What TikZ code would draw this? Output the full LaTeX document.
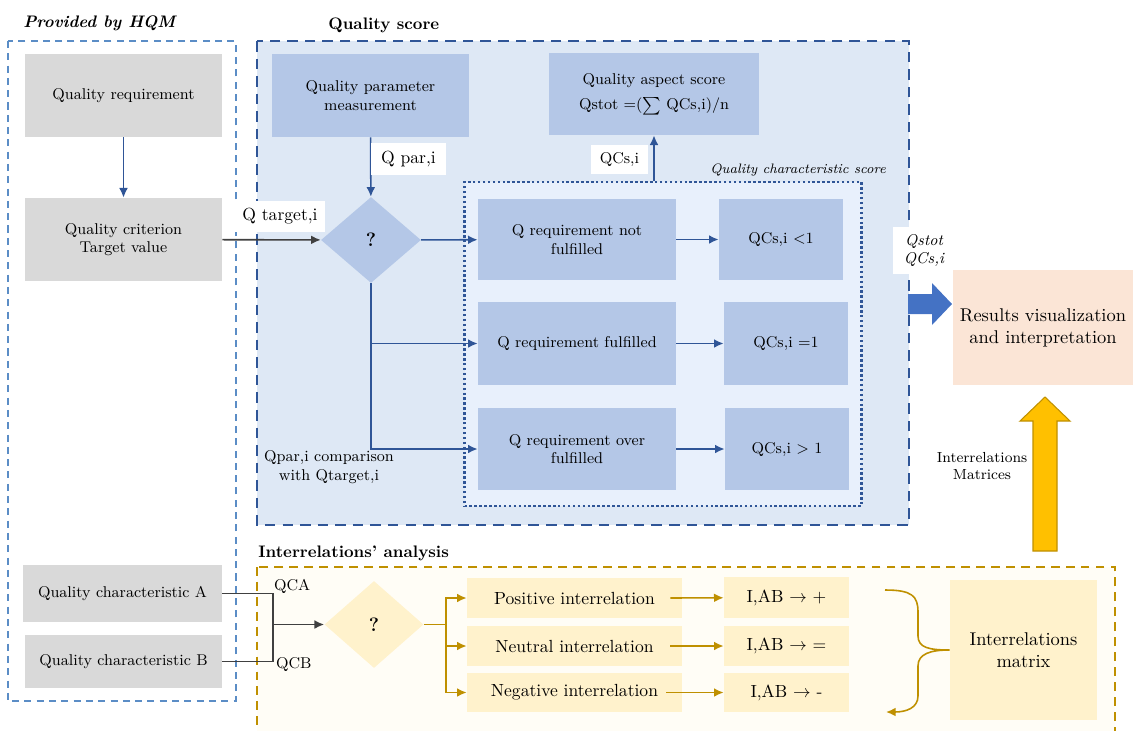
\documentclass[tikz,border=0pt]{standalone}
\usepackage{tikz}
\usepackage{xcolor}
\usetikzlibrary{arrows.meta,shapes.geometric,positioning}

\definecolor{boxgray}{HTML}{D9D9D9}
\definecolor{boxblue}{HTML}{B4C7E7}
\definecolor{scorebg}{HTML}{DEE8F5}
\definecolor{charbg}{HTML}{E8F0FC}
\definecolor{navy}{HTML}{2F5597}
\definecolor{hqmblue}{HTML}{5B8DC6}
\definecolor{darkgray}{HTML}{404040}
\definecolor{ochre}{HTML}{BF9000}
\definecolor{boxyellow}{HTML}{FFF2CC}
\definecolor{creambg}{HTML}{FFFDF6}
\definecolor{peach}{HTML}{FBE5D6}
\definecolor{blockblue}{HTML}{4472C4}
\definecolor{gold}{HTML}{FFC000}

\begin{document}
\begin{tikzpicture}[x=0.02cm,y=-0.02cm,
  txt/.style={font=\fontsize{8.9}{10.5}\selectfont},
  bigtxt/.style={font=\fontsize{10}{12}\selectfont},
  gbox/.style={txt,fill=boxgray,align=center,inner sep=1pt},
  bbox/.style={txt,fill=boxblue,align=center,inner sep=1pt},
  ybox/.style={bigtxt,fill=boxyellow,align=center,inner sep=1pt},
  lbl/.style={fill=white,align=center,inner sep=1pt},
  title/.style={font=\fontsize{9.5}{11}\selectfont\bfseries,anchor=west,inner sep=0pt},
  barrow/.style={navy,line width=0.9pt,-{Latex[length=5.5pt,width=5pt]}},
  garrow/.style={darkgray,line width=0.9pt,-{Latex[length=5.5pt,width=5pt]}},
  oarrow/.style={ochre,line width=0.9pt,-{Latex[length=5.5pt,width=5pt]}},
  qmark/.style={diamond,inner sep=0pt,font=\fontsize{11}{13}\selectfont\bfseries}
]
\useasboundingbox (0,0) rectangle (1134,731);

% frames
\draw[hqmblue,line width=0.8pt,dash pattern=on 4pt off 3pt] (8,41) rectangle (236,701);
\draw[navy,fill=scorebg,line width=1.1pt,dash pattern=on 6pt off 4pt] (257,41) rectangle (909,525);
\node[draw=navy,fill=charbg,line width=1.6pt,dash pattern=on 1.4pt off 1.4pt,
  minimum width=7.94cm,minimum height=6.48cm,inner sep=0pt] (qcsbox) at (663,344) {};
\draw[ochre,fill=creambg,line width=1pt,dash pattern=on 5pt off 3.5pt] (257,567) rectangle (1115,745);

% titles
\node[title,font=\fontsize{9.5}{11}\selectfont\bfseries\itshape] (thqm) at (23,23) {Provided by HQM};
\node[title] (tscore) at (328,25) {Quality score};
\node[title] (tinter) at (258,553) {Interrelations' analysis};
\node[anchor=west,inner sep=0pt,font=\fontsize{7.8}{10}\selectfont\itshape] (tqcs) at (710,170) {Quality characteristic score};

% provided by HQM
\node[gbox,minimum width=3.94cm,minimum height=1.66cm] (qreq) at (123.5,95.5) {Quality requirement};
\node[gbox,minimum width=3.94cm,minimum height=1.66cm] (qcrit) at (123.5,239.5) {Quality criterion\\Target value};
\node[gbox,minimum width=3.98cm,minimum height=1.14cm] (qca) at (122.5,593.5) {Quality characteristic A};
\node[gbox,minimum width=3.94cm,minimum height=1.06cm] (qcb) at (123.5,661.5) {Quality characteristic B};

% quality score
\node[bbox,minimum width=3.94cm,minimum height=1.66cm] (qpm) at (370.5,95.5) {Quality parameter\\measurement};
\node[bbox,minimum width=4.2cm,minimum height=1.64cm] (qasp) at (654,94) {Quality aspect score\\[4pt]Qstot =($\sum$ QCs,i)/n};
\node[qmark,fill=boxblue,minimum width=2cm,minimum height=1.72cm] (dia1) at (371,240) {?};
\node[bbox,minimum width=3.96cm,minimum height=1.62cm] (nf) at (577,239.5) {Q requirement not\\fulfilled};
\node[bbox,minimum width=2.48cm,minimum height=1.62cm] (lt1) at (781,239.5) {QCs,i $<$1};
\node[bbox,minimum width=3.96cm,minimum height=1.66cm] (ff) at (577,343.5) {Q requirement fulfilled};
\node[bbox,minimum width=2.48cm,minimum height=1.66cm] (eq1) at (786,343.5) {QCs,i =1};
\node[bbox,minimum width=3.96cm,minimum height=1.64cm] (of) at (577,449) {Q requirement over\\fulfilled};
\node[bbox,minimum width=2.48cm,minimum height=1.64cm] (gt1) at (787,449) {QCs,i $>$ 1};

\draw[barrow] (qreq) -- (qcrit);
\draw[garrow] (qcrit) -- (dia1);
\draw[barrow] (qpm) -- (dia1);
\draw[barrow] (dia1) -- (nf);
\draw[barrow] (dia1.south) |- (ff);
\draw[barrow] (dia1.south) |- (of);
\draw[barrow] (nf) -- (lt1);
\draw[barrow] (ff) -- (eq1);
\draw[barrow] (of) -- (gt1);
\draw[barrow] (qcsbox.north -| qasp) -- (qasp);

\node[lbl,bigtxt,minimum width=1.5cm,minimum height=0.64cm] (lpar) at (408.5,159) {Q par,i};
\node[lbl,bigtxt,minimum width=1.8cm,minimum height=0.62cm] (ltarget) at (280,216.5) {Q target,i};
\node[lbl,txt,minimum width=1.16cm,minimum height=0.58cm] (lqcs) at (619.5,159.5) {QCs,i};
\node[txt,align=center,inner sep=0pt] (lcomp) at (329,467) {Qpar,i comparison\\with Qtarget,i};

% results
\node[lbl,font=\fontsize{8.9}{10.5}\selectfont\itshape,minimum width=1.24cm,minimum height=0.94cm] (lqstot) at (924,250.5) {Qstot\\QCs,i};
\node[fill=peach,font=\fontsize{10.5}{12.5}\selectfont,align=center,minimum width=3.62cm,minimum height=2.3cm] (res) at (1043,327.5) {Results visualization\\and interpretation};
\fill[blockblue] (908,294) -- (932,294) -- (932,283) -- (952,304) -- (932,325) -- (932,314) -- (908,314) -- cycle;
\draw[ochre,fill=gold,line width=0.6pt] (1033,551) -- (1033,421) -- (1020,421) -- (1045,397) -- (1070,421) -- (1057,421) -- (1057,551) -- cycle;
\node[font=\fontsize{8.3}{10}\selectfont,align=center,inner sep=0pt] (lmat) at (982,466) {Interrelations\\Matrices};

% interrelations
\node[qmark,fill=boxyellow,minimum width=1.98cm,minimum height=1.74cm] (dia2) at (374,624.5) {?};
\node[ybox,minimum width=4.3cm,minimum height=0.8cm] (pos) at (574.5,598) {Positive interrelation};
\node[ybox,minimum width=4.3cm,minimum height=0.8cm] (neu) at (574.5,646) {Neutral interrelation};
\node[ybox,minimum width=4.3cm,minimum height=0.78cm] (neg) at (574.5,692.5) {Negative interrelation};
\node[ybox,minimum width=2.5cm,minimum height=0.82cm] (ipos) at (786.5,597.5) {I,AB $\rightarrow$ +};
\node[ybox,minimum width=2.5cm,minimum height=0.8cm] (ineu) at (786.5,646) {I,AB $\rightarrow$ =};
\node[ybox,minimum width=2.5cm,minimum height=0.78cm] (ineg) at (786.5,692.5) {I,AB $\rightarrow$ -};
\node[fill=boxyellow,font=\fontsize{10.5}{12.5}\selectfont,align=center,minimum width=2.94cm,minimum height=2.8cm] (imat) at (1023.5,650) {Interrelations\\matrix};

\coordinate (jab) at (273,624.5);
\coordinate (jo) at (446,624.5);
\draw[darkgray,line width=0.9pt] (qca) -| (jab);
\draw[darkgray,line width=0.9pt] (qcb) -| (jab);
\draw[garrow] (jab) -- (dia2);
\node[txt,anchor=south west,inner sep=1pt] (lqca) at (272,596) {QCA};
\node[txt,anchor=north west,inner sep=1pt] (lqcb) at (274,655) {QCB};

\draw[ochre,line width=0.9pt] (dia2) -- (jo);
\draw[oarrow] (jo) |- (pos);
\draw[oarrow] (jo) |- (neu);
\draw[oarrow] (jo) |- (neg);
\draw[oarrow] ([xshift=-0.24cm]pos.east) -- (ipos);
\draw[oarrow] ([xshift=-0.24cm]neu.east) -- (ineu);
\draw[oarrow] ([xshift=-0.32cm]neg.east) -- (ineg);
\draw[oarrow] (885,590) .. controls (912,590) and (918,596) .. (918,612) -- (918,636)
  .. controls (918,648) and (930,650) .. (imat.west)
  .. controls (930,650) and (918,654) .. (918,666) -- (918,696)
  .. controls (918,708) and (906,712) .. (886,712);
\end{tikzpicture}
\end{document}
